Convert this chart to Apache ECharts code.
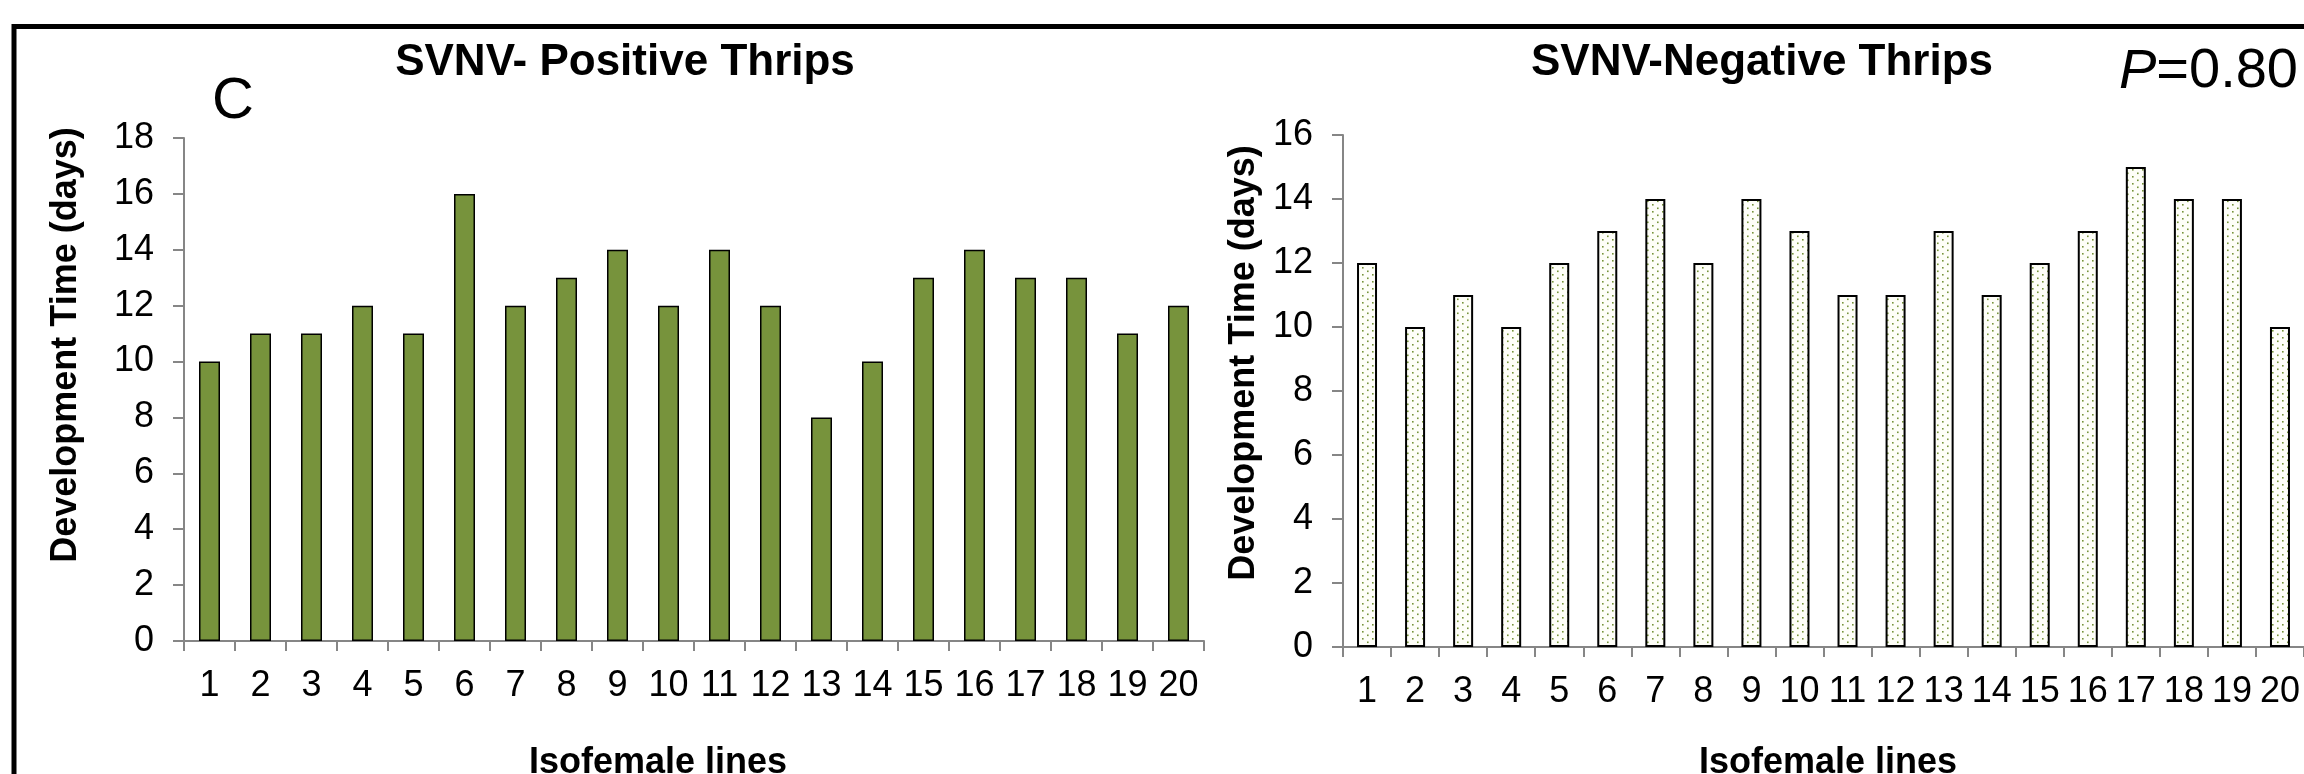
<!DOCTYPE html>
<html>
<head>
<meta charset="utf-8">
<script src="https://cdn.jsdelivr.net/npm/echarts@6/dist/echarts.min.js"></script>
<style>
  html, body { margin: 0; padding: 0; background: #ffffff; }
  #chart { width: 2304px; height: 774px; }
</style>
</head>
<body>
<div id="chart"></div>
<script>
// Isofemale line numbers shared by both panels
const isofemaleLines = ['1','2','3','4','5','6','7','8','9','10','11','12','13','14','15','16','17','18','19','20'];

// Development time (days) per isofemale line
const positiveDays = [10, 11, 11, 12, 11, 16, 12, 13, 14, 12, 14, 12, 8, 10, 13, 14, 13, 13, 11, 12];
const negativeDays = [12, 10, 11, 10, 12, 13, 14, 12, 14, 13, 11, 11, 13, 11, 12, 13, 15, 14, 14, 10];

// Value axis ranges and tick steps
const positiveAxis = { min: 0, max: 18, step: 2 };
const negativeAxis = { min: 0, max: 16, step: 2 };

// Text
const panelLetter = 'C';
const positiveTitle = 'SVNV- Positive Thrips';
const negativeTitle = 'SVNV-Negative Thrips';
const pValueLabel = '0.80';
const yAxisName = 'Development Time (days)';
const xAxisName = 'Isofemale lines';

const FONT = '"Liberation Sans", Arial, Helvetica, sans-serif';
const OLIVE = '#77933C';
const AXIS_GREY = '#868686';

// Dotted fill for the SVNV-negative bars
function makeDotPattern() {
  const c = document.createElement('canvas');
  c.width = 10; c.height = 7;
  const ctx = c.getContext('2d');
  ctx.fillStyle = '#fefef8';
  ctx.fillRect(0, 0, 10, 7);
  ctx.fillStyle = OLIVE;
  ctx.fillRect(2, 1, 1.6, 1.6);
  ctx.fillRect(7, 4.5, 1.6, 1.6);
  return c;
}

function categoryAxis(gridIndex) {
  return {
    type: 'category',
    gridIndex: gridIndex,
    data: isofemaleLines,
    boundaryGap: true,
    axisLine: { show: true, lineStyle: { color: AXIS_GREY, width: 2 } },
    axisTick: { show: true, interval: 0, length: 10, lineStyle: { color: AXIS_GREY, width: 2 } },
    axisLabel: { interval: 0, margin: 27, color: '#000', fontSize: 36, fontFamily: FONT },
    splitLine: { show: false }
  };
}

function valueAxis(gridIndex, range) {
  return {
    type: 'value',
    gridIndex: gridIndex,
    min: range.min,
    max: range.max,
    interval: range.step,
    axisLine: { show: true, lineStyle: { color: AXIS_GREY, width: 2 } },
    axisTick: { show: true, length: 11, lineStyle: { color: AXIS_GREY, width: 2 } },
    axisLabel: { margin: 30, color: '#000', fontSize: 36, fontFamily: FONT },
    splitLine: { show: false }
  };
}

function label(text, x, y, size, opts) {
  return Object.assign({
    type: 'text',
    x: x, y: y,
    z: 10,
    style: {
      text: text,
      fill: '#000',
      font: (opts && opts.weight ? opts.weight + ' ' : '') + size + 'px ' + FONT,
      align: 'center',
      verticalAlign: 'middle'
    }
  }, opts && opts.rotation !== undefined ? { rotation: opts.rotation } : {});
}

const chart = echarts.init(document.getElementById('chart'), null, { renderer: 'canvas' });

chart.setOption({
  backgroundColor: '#ffffff',
  animation: false,
  grid: [
    { left: 184, right: 1100, top: 138, bottom: 133 },
    { left: 1343, right: -9, top: 135, bottom: 127 }
  ],
  xAxis: [categoryAxis(0), categoryAxis(1)],
  yAxis: [valueAxis(0, positiveAxis), valueAxis(1, negativeAxis)],
  series: [
    {
      type: 'bar',
      xAxisIndex: 0, yAxisIndex: 0,
      data: positiveDays,
      barWidth: 21,
      itemStyle: { color: OLIVE, borderColor: '#000', borderWidth: 1.5 }
    },
    {
      type: 'bar',
      xAxisIndex: 1, yAxisIndex: 1,
      data: negativeDays,
      barWidth: 20,
      itemStyle: {
        color: { image: makeDotPattern(), repeat: 'repeat' },
        borderColor: '#000',
        borderWidth: 2
      }
    }
  ],
  graphic: [
    // outer frame
    {
      type: 'rect',
      z: 20,
      shape: { x: 14, y: 26.5, width: 2400, height: 1000 },
      style: { fill: 'none', stroke: '#000', lineWidth: 5 }
    },
    label(panelLetter, 233, 102, 58),
    label(positiveTitle, 625, 63, 44, { weight: 'bold' }),
    label(negativeTitle, 1762, 63, 44, { weight: 'bold' }),
    {
      type: 'text',
      x: 2298, y: 72, z: 10,
      style: {
        text: '{i|P}{n|=' + pValueLabel + '}',
        align: 'right',
        verticalAlign: 'middle',
        rich: {
          i: { fontSize: 56, fontStyle: 'italic', fontFamily: FONT, fill: '#000' },
          n: { fontSize: 56, fontFamily: FONT, fill: '#000' }
        }
      }
    },
    label(yAxisName, 66, 345, 36, { weight: 'bold', rotation: Math.PI / 2 }),
    label(yAxisName, 1244, 363, 36, { weight: 'bold', rotation: Math.PI / 2 }),
    label(xAxisName, 658, 763, 36, { weight: 'bold' }),
    label(xAxisName, 1828, 763, 36, { weight: 'bold' })
  ]
});
</script>
</body>
</html>
